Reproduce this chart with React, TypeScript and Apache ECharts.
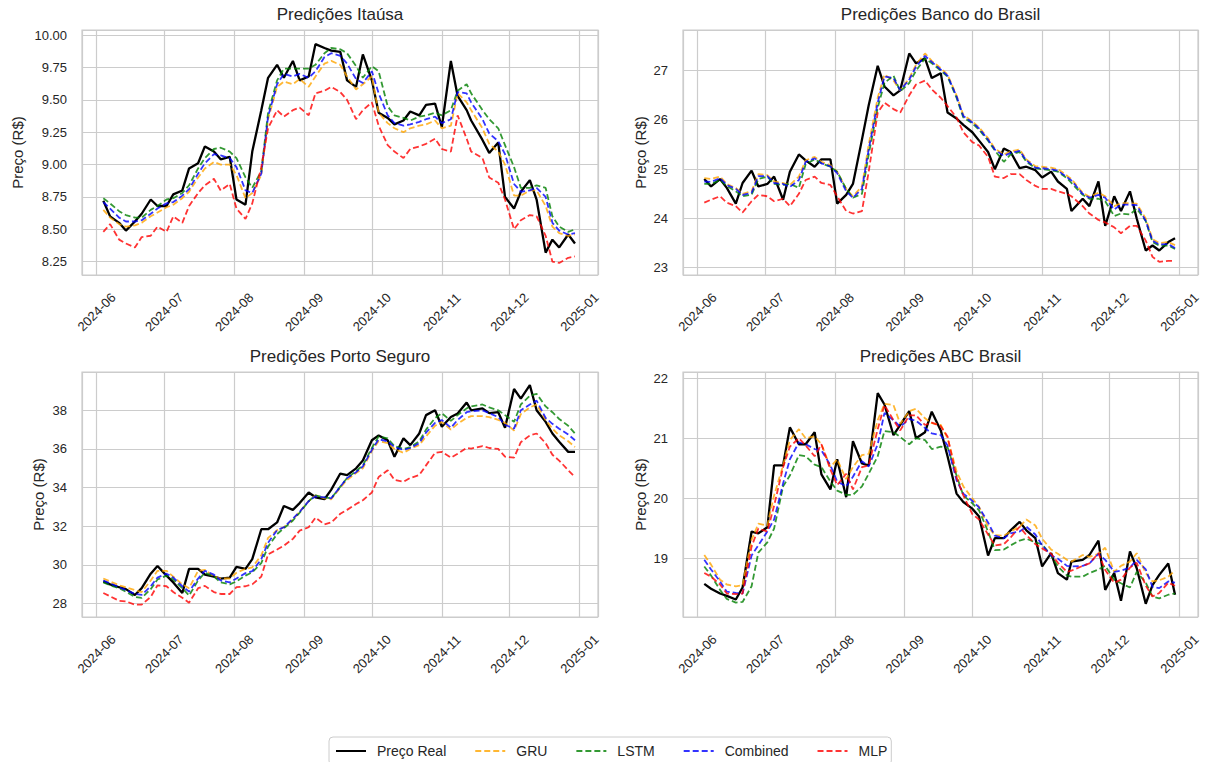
import React, { useEffect, useRef } from "react";
import * as echarts from "echarts";

// Trading dates sampled (twice a week) from the reference
const dates = [
  "2024-06-04", "2024-06-07", "2024-06-11", "2024-06-14", "2024-06-18", "2024-06-21", "2024-06-25", "2024-06-28",
  "2024-07-02", "2024-07-05", "2024-07-09", "2024-07-12", "2024-07-16", "2024-07-19", "2024-07-23", "2024-07-26", "2024-07-30",
  "2024-08-02", "2024-08-06", "2024-08-09", "2024-08-13", "2024-08-16", "2024-08-20", "2024-08-23", "2024-08-27", "2024-08-30",
  "2024-09-03", "2024-09-06", "2024-09-10", "2024-09-13", "2024-09-17", "2024-09-20", "2024-09-24", "2024-09-27",
  "2024-10-01", "2024-10-04", "2024-10-08", "2024-10-11", "2024-10-15", "2024-10-18", "2024-10-22", "2024-10-25", "2024-10-29",
  "2024-11-01", "2024-11-05", "2024-11-08", "2024-11-12", "2024-11-14", "2024-11-19", "2024-11-22", "2024-11-26", "2024-11-29",
  "2024-12-03", "2024-12-06", "2024-12-10", "2024-12-13", "2024-12-17", "2024-12-20", "2024-12-23", "2024-12-27", "2024-12-30",
];

const seriesNames = ["Preço Real", "GRU", "LSTM", "Combined", "MLP"];

// Itaúsa
const itausaReal = [8.72, 8.60, 8.55, 8.49, 8.56, 8.62, 8.73, 8.68, 8.68, 8.77, 8.80, 8.97, 9.01, 9.14, 9.10, 9.04, 9.06, 8.73, 8.69, 9.10, 9.42, 9.67, 9.77, 9.67, 9.80, 9.65, 9.68, 9.93, 9.90, 9.88, 9.87, 9.65, 9.60, 9.85, 9.65, 9.40, 9.36, 9.31, 9.34, 9.41, 9.38, 9.46, 9.47, 9.29, 9.80, 9.53, 9.42, 9.34, 9.19, 9.09, 9.17, 8.75, 8.66, 8.79, 8.88, 8.73, 8.32, 8.42, 8.36, 8.46, 8.39];
const itausaGRU = [8.65, 8.59, 8.54, 8.52, 8.53, 8.55, 8.60, 8.63, 8.67, 8.69, 8.74, 8.79, 8.90, 8.97, 9.02, 9.00, 9.00, 8.92, 8.74, 8.78, 8.92, 9.35, 9.60, 9.64, 9.62, 9.66, 9.60, 9.68, 9.78, 9.80, 9.77, 9.68, 9.58, 9.62, 9.68, 9.40, 9.32, 9.28, 9.25, 9.28, 9.30, 9.31, 9.34, 9.28, 9.30, 9.55, 9.48, 9.42, 9.28, 9.16, 9.10, 9.00, 8.76, 8.76, 8.80, 8.80, 8.68, 8.52, 8.47, 8.45, 8.46];
const itausaLSTM = [8.74, 8.70, 8.64, 8.61, 8.59, 8.59, 8.65, 8.68, 8.73, 8.74, 8.78, 8.84, 8.97, 9.05, 9.12, 9.13, 9.10, 9.05, 8.90, 8.82, 8.95, 9.40, 9.65, 9.74, 9.74, 9.74, 9.74, 9.77, 9.86, 9.90, 9.89, 9.86, 9.76, 9.67, 9.76, 9.72, 9.45, 9.38, 9.36, 9.34, 9.37, 9.38, 9.40, 9.38, 9.42, 9.57, 9.62, 9.55, 9.42, 9.35, 9.28, 9.15, 8.98, 8.82, 8.82, 8.84, 8.82, 8.60, 8.52, 8.48, 8.50];
const itausaCombined = [8.71, 8.66, 8.59, 8.56, 8.56, 8.57, 8.62, 8.66, 8.70, 8.71, 8.76, 8.81, 8.93, 9.01, 9.08, 9.07, 9.05, 8.98, 8.80, 8.78, 8.93, 9.37, 9.62, 9.70, 9.68, 9.70, 9.67, 9.72, 9.83, 9.86, 9.84, 9.78, 9.66, 9.63, 9.72, 9.55, 9.38, 9.32, 9.30, 9.31, 9.33, 9.35, 9.37, 9.32, 9.35, 9.56, 9.55, 9.48, 9.35, 9.24, 9.18, 9.08, 8.85, 8.79, 8.80, 8.82, 8.75, 8.55, 8.49, 8.46, 8.47];
const itausaMLP = [8.48, 8.54, 8.42, 8.39, 8.36, 8.44, 8.45, 8.52, 8.48, 8.60, 8.55, 8.68, 8.78, 8.84, 8.89, 8.80, 8.85, 8.66, 8.58, 8.70, 8.98, 9.28, 9.42, 9.37, 9.42, 9.44, 9.38, 9.55, 9.57, 9.60, 9.56, 9.50, 9.35, 9.42, 9.48, 9.30, 9.15, 9.10, 9.05, 9.12, 9.14, 9.16, 9.20, 9.12, 9.10, 9.38, 9.20, 9.10, 9.05, 8.90, 8.86, 8.73, 8.50, 8.57, 8.61, 8.60, 8.45, 8.25, 8.24, 8.28, 8.29];

// Banco do Brasil
const bbReal = [24.80, 24.65, 24.80, 24.62, 24.30, 24.72, 24.97, 24.65, 24.70, 24.85, 24.38, 24.95, 25.30, 25.18, 25.05, 25.20, 25.20, 24.30, 24.48, 24.70, 25.60, 26.30, 27.10, 26.68, 26.50, 26.60, 27.35, 27.15, 27.25, 26.85, 26.95, 26.15, 26.03, 25.90, 25.75, 25.58, 25.35, 25.00, 25.42, 25.35, 25.02, 25.05, 24.98, 24.83, 24.95, 24.75, 24.60, 24.15, 24.40, 24.25, 24.75, 23.85, 24.45, 24.15, 24.55, 24.00, 23.35, 23.45, 23.35, 23.52, 23.60];
const bbGRU = [24.82, 24.80, 24.85, 24.70, 24.62, 24.50, 24.55, 24.90, 24.88, 24.75, 24.72, 24.68, 24.85, 25.18, 25.25, 25.15, 25.08, 24.95, 24.60, 24.45, 24.65, 25.50, 26.45, 26.92, 26.80, 26.60, 26.85, 27.12, 27.35, 27.20, 27.05, 26.92, 26.50, 26.10, 25.97, 25.85, 25.63, 25.42, 25.30, 25.36, 25.40, 25.20, 25.06, 25.05, 25.03, 25.00, 24.87, 24.80, 24.52, 24.44, 24.52, 24.45, 24.25, 24.31, 24.31, 24.30, 24.00, 23.58, 23.50, 23.52, 23.46];
const bbLSTM = [24.70, 24.70, 24.78, 24.66, 24.55, 24.45, 24.48, 24.80, 24.85, 24.70, 24.68, 24.70, 24.62, 25.10, 25.20, 25.12, 25.05, 24.95, 24.60, 24.42, 24.50, 25.30, 26.25, 26.75, 26.90, 26.58, 26.75, 27.00, 27.25, 27.15, 27.00, 26.88, 26.45, 26.05, 25.93, 25.80, 25.58, 25.38, 25.15, 25.30, 25.35, 25.15, 25.02, 25.00, 24.98, 24.95, 24.82, 24.72, 24.48, 24.40, 24.40, 24.35, 24.05, 24.10, 24.08, 24.20, 23.95, 23.52, 23.45, 23.45, 23.38];
const bbCombined = [24.75, 24.74, 24.82, 24.68, 24.60, 24.48, 24.52, 24.86, 24.86, 24.72, 24.70, 24.64, 24.78, 25.15, 25.22, 25.12, 25.06, 24.92, 24.55, 24.42, 24.60, 25.40, 26.35, 26.88, 26.85, 26.60, 26.82, 27.08, 27.30, 27.18, 27.02, 26.90, 26.48, 26.08, 25.95, 25.83, 25.60, 25.40, 25.27, 25.33, 25.37, 25.18, 25.03, 25.02, 25.00, 24.97, 24.84, 24.77, 24.50, 24.42, 24.48, 24.42, 24.18, 24.28, 24.28, 24.27, 23.95, 23.55, 23.47, 23.48, 23.40];
const bbMLP = [24.32, 24.38, 24.45, 24.32, 24.25, 24.12, 24.35, 24.48, 24.45, 24.35, 24.40, 24.25, 24.50, 24.78, 24.85, 24.72, 24.68, 24.45, 24.15, 24.10, 24.15, 24.95, 26.15, 26.35, 26.22, 26.15, 26.50, 26.72, 26.80, 26.62, 26.45, 26.28, 26.05, 25.75, 25.55, 25.48, 25.25, 24.85, 24.82, 24.90, 24.90, 24.78, 24.66, 24.60, 24.60, 24.55, 24.50, 24.45, 24.25, 24.10, 23.97, 23.92, 23.82, 23.70, 23.85, 23.85, 23.55, 23.22, 23.12, 23.14, 23.14];

// Porto Seguro
const psReal = [29.15, 29.00, 28.85, 28.75, 28.45, 28.80, 29.55, 29.95, 29.45, 29.10, 28.55, 29.80, 29.80, 29.50, 29.40, 29.30, 29.35, 29.90, 29.80, 30.30, 31.85, 31.85, 32.20, 33.05, 32.85, 33.20, 33.75, 33.50, 33.40, 33.90, 34.73, 34.65, 35.00, 35.40, 36.45, 36.70, 36.45, 35.60, 36.55, 36.20, 36.80, 37.75, 38.00, 37.15, 37.65, 37.83, 38.40, 38.00, 38.10, 37.85, 37.90, 37.10, 39.10, 38.60, 39.30, 38.00, 37.40, 36.80, 36.37, 35.85, 35.85];
const psGRU = [29.30, 29.15, 28.95, 28.85, 28.70, 28.60, 29.20, 29.70, 29.70, 29.40, 29.00, 28.80, 29.70, 29.75, 29.40, 29.30, 29.30, 29.60, 29.80, 29.88, 30.50, 31.40, 31.80, 31.95, 32.35, 32.75, 33.30, 33.60, 33.45, 33.40, 34.00, 34.40, 34.75, 35.00, 35.90, 36.40, 36.30, 36.00, 35.80, 36.00, 36.20, 36.65, 37.20, 37.40, 37.00, 37.30, 37.60, 37.70, 37.70, 37.65, 37.50, 37.35, 36.95, 37.80, 38.15, 38.30, 37.50, 37.05, 36.70, 36.40, 36.10];
const psLSTM = [29.10, 28.95, 28.80, 28.62, 28.35, 28.30, 28.75, 29.25, 29.45, 29.25, 28.80, 28.42, 29.20, 29.60, 29.40, 29.10, 29.00, 29.15, 29.45, 29.62, 30.10, 30.95, 31.60, 31.90, 32.30, 32.70, 33.30, 33.60, 33.50, 33.45, 34.05, 34.50, 34.85, 35.15, 36.05, 36.65, 36.55, 36.15, 36.00, 36.10, 36.40, 37.00, 37.60, 37.85, 37.45, 37.75, 38.10, 38.20, 38.30, 38.15, 38.00, 37.75, 37.40, 38.30, 38.75, 38.85, 38.20, 37.90, 37.55, 37.20, 36.80];
const psCombined = [29.20, 29.05, 28.85, 28.70, 28.50, 28.45, 28.90, 29.35, 29.55, 29.35, 28.90, 28.62, 29.30, 29.70, 29.50, 29.20, 29.10, 29.30, 29.58, 29.68, 30.30, 31.15, 31.80, 31.95, 32.40, 32.75, 33.30, 33.55, 33.50, 33.45, 34.05, 34.50, 34.80, 35.10, 35.95, 36.50, 36.40, 36.10, 35.95, 36.05, 36.30, 36.85, 37.35, 37.50, 37.10, 37.50, 37.90, 37.95, 38.00, 37.85, 37.65, 37.25, 37.05, 38.00, 38.30, 38.50, 37.60, 37.30, 37.05, 36.75, 36.45];
const psMLP = [28.55, 28.38, 28.15, 28.12, 27.95, 27.95, 28.35, 28.95, 28.90, 28.60, 28.30, 28.05, 28.80, 28.92, 28.60, 28.50, 28.50, 28.85, 28.90, 29.00, 29.40, 30.55, 30.80, 31.00, 31.35, 31.78, 31.95, 32.45, 32.10, 32.20, 32.65, 32.85, 33.15, 33.35, 33.75, 34.55, 34.90, 34.40, 34.30, 34.50, 34.65, 35.15, 35.80, 35.85, 35.55, 35.75, 36.05, 36.02, 36.15, 36.05, 36.00, 35.60, 35.55, 36.35, 36.70, 36.80, 36.30, 35.70, 35.40, 34.90, 34.55];

// ABC Brasil
const abcReal = [18.58, 18.50, 18.42, 18.38, 18.32, 18.52, 19.45, 19.42, 19.52, 20.55, 20.55, 21.18, 20.90, 20.90, 21.10, 20.40, 20.15, 20.65, 20.02, 20.95, 20.58, 20.55, 21.75, 21.56, 21.05, 21.22, 21.45, 21.00, 21.10, 21.44, 21.13, 20.70, 20.08, 19.94, 19.83, 19.70, 19.05, 19.34, 19.34, 19.47, 19.61, 19.47, 19.34, 18.87, 19.09, 18.76, 18.65, 18.95, 18.98, 19.06, 19.30, 18.48, 18.76, 18.30, 19.12, 18.84, 18.25, 18.56, 18.73, 18.92, 18.40];
const abcGRU = [19.06, 18.90, 18.65, 18.57, 18.54, 18.56, 19.31, 19.58, 19.55, 20.05, 20.55, 20.97, 21.15, 21.00, 21.03, 20.90, 20.52, 20.65, 20.32, 20.52, 20.72, 20.74, 21.30, 21.57, 21.55, 21.24, 21.45, 21.49, 21.33, 21.25, 21.22, 21.00, 20.45, 20.20, 20.00, 19.86, 19.53, 19.39, 19.38, 19.45, 19.53, 19.65, 19.55, 19.33, 19.15, 19.08, 18.98, 18.95, 19.06, 19.03, 19.08, 19.18, 18.78, 18.88, 18.95, 19.09, 18.76, 18.62, 18.64, 18.70, 18.80];
const abcLSTM = [18.87, 18.72, 18.48, 18.33, 18.27, 18.28, 18.54, 19.10, 19.27, 19.50, 20.20, 20.38, 20.72, 20.70, 20.56, 20.52, 20.28, 20.13, 20.06, 20.06, 20.20, 20.41, 20.70, 21.12, 21.10, 21.02, 20.90, 21.00, 20.97, 20.82, 20.86, 20.85, 20.38, 20.05, 19.92, 19.80, 19.45, 19.14, 19.15, 19.22, 19.30, 19.33, 19.27, 19.24, 19.05, 18.87, 18.72, 18.70, 18.70, 18.76, 18.82, 18.88, 18.65, 18.59, 18.52, 18.78, 18.60, 18.37, 18.34, 18.40, 18.42];
const abcCombined = [18.98, 18.82, 18.62, 18.45, 18.43, 18.42, 19.05, 19.22, 19.45, 19.65, 20.25, 20.65, 20.93, 20.90, 20.82, 20.80, 20.55, 20.28, 20.20, 20.36, 20.62, 20.53, 20.90, 21.42, 21.30, 21.19, 21.32, 21.29, 21.17, 21.08, 21.05, 20.88, 20.30, 20.08, 19.96, 19.85, 19.60, 19.38, 19.34, 19.42, 19.45, 19.53, 19.40, 19.22, 19.05, 19.00, 18.88, 18.87, 18.88, 18.92, 19.08, 18.98, 18.78, 18.80, 18.85, 18.98, 18.82, 18.53, 18.51, 18.62, 18.60];
const abcMLP = [18.76, 18.70, 18.57, 18.42, 18.41, 18.42, 19.20, 19.50, 19.45, 19.88, 20.52, 20.86, 21.00, 20.88, 20.70, 20.90, 20.48, 20.22, 20.41, 20.15, 20.52, 20.55, 21.15, 21.55, 21.30, 21.13, 21.38, 21.38, 21.22, 21.26, 21.20, 21.03, 20.35, 20.05, 19.74, 19.65, 19.40, 19.22, 19.24, 19.35, 19.53, 19.39, 19.24, 19.17, 19.08, 18.93, 18.78, 18.80, 18.88, 18.92, 19.09, 18.81, 18.60, 18.65, 18.85, 18.93, 18.55, 18.37, 18.43, 18.60, 18.55];

const panelData = [
  { title: "Predições Itaúsa", values: [itausaReal, itausaGRU, itausaLSTM, itausaCombined, itausaMLP] },
  { title: "Predições Banco do Brasil", values: [bbReal, bbGRU, bbLSTM, bbCombined, bbMLP] },
  { title: "Predições Porto Seguro", values: [psReal, psGRU, psLSTM, psCombined, psMLP] },
  { title: "Predições ABC Brasil", values: [abcReal, abcGRU, abcLSTM, abcCombined, abcMLP] },
];

// Layout / axis configuration (not data)
const panelLayout = [
  { left: 82, top: 30, width: 516, height: 245, yMin: 8.147, yMax: 10.039, step: 0.25, dec: 2, nameGap: 57 },
  { left: 683, top: 30, width: 515, height: 245, yMin: 22.852, yMax: 27.826, step: 1, dec: 0, nameGap: 35 },
  { left: 82, top: 372, width: 516, height: 245, yMin: 27.31, yMax: 39.98, step: 2, dec: 0, nameGap: 36 },
  { left: 683, top: 372, width: 515, height: 245, yMin: 18.03, yMax: 22.1, step: 1, dec: 0, nameGap: 35 },
];

const seriesStyles = [
  { color: "#000000", width: 2.3, type: "solid", opacity: 1 },
  { color: "#FFA500", width: 1.8, type: [6, 3], opacity: 0.8 },
  { color: "#008000", width: 1.8, type: [6, 3], opacity: 0.8 },
  { color: "#0000FF", width: 1.8, type: [6, 3], opacity: 0.8 },
  { color: "#FF0000", width: 1.8, type: [6, 3], opacity: 0.8 },
];

const FONT = '"Liberation Sans", Arial, sans-serif';
const TEXT = "#262626";
const GRID_COLOR = "#cccccc";
const DAY = 86400000;

export default function App() {
  const ref = useRef<HTMLDivElement>(null);

  useEffect(() => {
    document.body.style.margin = "0";
    if (!ref.current) return;
    const chart = echarts.init(ref.current, undefined, { renderer: "svg" });

    const june1 = new Date(2024, 5, 1).getTime();
    const xMin = june1 - 6.45 * DAY;
    const xMax = june1 + 222.2 * DAY;

    const grids = panelLayout.map((p) => ({
      left: p.left,
      top: p.top,
      width: p.width,
      height: p.height,
      show: true,
      borderColor: GRID_COLOR,
      borderWidth: 1.2,
      backgroundColor: "transparent",
      containLabel: false,
    }));

    const xAxes = panelLayout.map((p, i) => ({
      type: "time",
      gridIndex: i,
      min: xMin,
      max: xMax,
      minInterval: 31 * DAY,
      maxInterval: 31 * DAY,
      axisLine: { show: false },
      axisTick: { show: false },
      splitLine: { show: true, lineStyle: { color: GRID_COLOR, width: 1.2 } },
      axisLabel: {
        formatter: "{yyyy}-{MM}",
        rotate: 45,
        align: "center",
        verticalAlign: "middle",
        margin: 37,
        color: TEXT,
        fontSize: 13,
        fontFamily: FONT,
        showMinLabel: false,
        showMaxLabel: false,
        hideOverlap: false,
      },
    }));

    const yAxes = panelLayout.map((p, i) => ({
      type: "value",
      gridIndex: i,
      min: p.yMin,
      max: p.yMax,
      minInterval: p.step,
      maxInterval: p.step,
      name: "Preço (R$)",
      nameLocation: "middle",
      nameGap: p.nameGap,
      nameRotate: 90,
      nameTextStyle: { color: TEXT, fontSize: 15, fontFamily: FONT },
      axisLine: { show: false },
      axisTick: { show: false },
      splitLine: { show: true, lineStyle: { color: GRID_COLOR, width: 1.2 } },
      axisLabel: {
        color: TEXT,
        fontSize: 13,
        fontFamily: FONT,
        margin: 15,
        showMinLabel: false,
        showMaxLabel: false,
        formatter: (v: number) => v.toFixed(p.dec),
      },
    }));

    const series: any[] = [];
    panelData.forEach((panel, i) => {
      panel.values.forEach((arr, s) => {
        const st = seriesStyles[s];
        series.push({
          type: "line",
          name: seriesNames[s],
          xAxisIndex: i,
          yAxisIndex: i,
          data: dates.map((d, k) => [d, arr[k]]),
          symbol: "none",
          showSymbol: false,
          smooth: false,
          z: 2 + s,
          itemStyle: { color: st.color, opacity: st.opacity },
          lineStyle: { color: st.color, width: st.width, type: st.type, opacity: st.opacity },
          emphasis: { disabled: true },
        });
      });
    });

    const titles = panelData.map((panel, i) => {
      const p = panelLayout[i];
      return {
        type: "text",
        x: p.left + p.width / 2,
        y: 14 + (i >= 2 ? 342 : 0),
        style: {
          text: panel.title,
          fill: TEXT,
          fontSize: 17,
          fontFamily: FONT,
          align: "center",
          verticalAlign: "middle",
        },
      };
    });

    chart.setOption({
      animation: false,
      backgroundColor: "#ffffff",
      grid: grids,
      xAxis: xAxes,
      yAxis: yAxes,
      series,
      graphic: titles,
      legend: {
        data: seriesNames,
        left: 329,
        top: 737,
        orient: "horizontal",
        itemWidth: 30,
        itemHeight: 14,
        itemGap: 28,
        padding: [7, 4, 7, 6],
        borderColor: GRID_COLOR,
        borderWidth: 1,
        borderRadius: 4,
        backgroundColor: "#ffffff",
        selectedMode: false,
        itemStyle: { opacity: 0 },
        textStyle: { color: TEXT, fontSize: 14, fontFamily: FONT, padding: [0, 0, 0, 6] },
      },
    });

    return () => {
      chart.dispose();
    };
  }, []);

  return <div ref={ref} style={{ width: 1206, height: 762 }} />;
}
